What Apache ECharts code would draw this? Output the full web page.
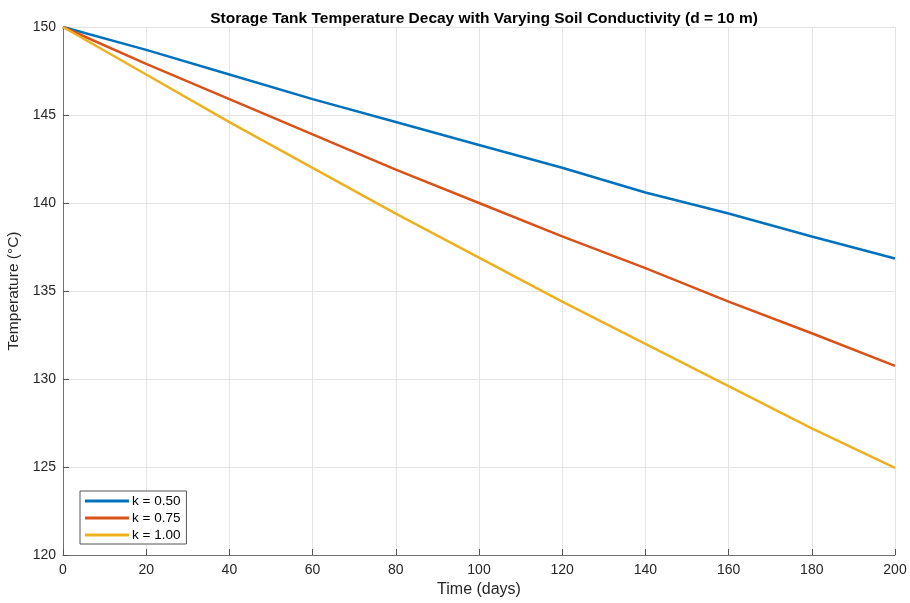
<!DOCTYPE html>
<html>
<head>
<meta charset="utf-8">
<script src="https://cdn.jsdelivr.net/npm/echarts@6/dist/echarts.min.js"></script>
<style>
  html, body { margin: 0; padding: 0; background: #fff; }
  #main { width: 910px; height: 603px; }
</style>
</head>
<body>
<div id="main"></div>
<script>
'use strict';

// time in days
const days = [0, 20, 40, 60, 80, 100, 120, 140, 160, 180, 200];
// tank temperature (°C)
const tempK050 = [150.0, 148.7, 147.3, 145.9, 144.6, 143.3, 142.0, 140.6, 139.4, 138.1, 136.85];
const tempK075 = [150.0, 147.9, 145.9, 143.9, 141.9, 140.0, 138.1, 136.3, 134.4, 132.6, 130.75];
const tempK100 = [150.0, 147.3, 144.6, 142.0, 139.4, 136.9, 134.4, 132.0, 129.6, 127.2, 124.95];
const seriesNames = ['k = 0.50', 'k = 0.75', 'k = 1.00'];
const colors = ['#0072BD', '#D95319', '#EDB120'];

const font = '"Liberation Sans", Arial, Helvetica, sans-serif';

function pairs(vals) {
    return days.map((d, i) => [d, vals[i]]);
}

window.onload = function () {
    let chart = echarts.init(document.getElementById('main'));

    let allSeries = [tempK050, tempK075, tempK100].map((vals, i) => ({
        name: seriesNames[i],
        type: 'line',
        data: pairs(vals),
        showSymbol: false,
        lineStyle: { width: 2.5, color: colors[i] },
        itemStyle: { color: colors[i] },
        z: 3 + i
    }));

    chart.setOption({
        animation: false,
        backgroundColor: '#fff',
        title: {
            text: 'Storage Tank Temperature Decay with Varying Soil Conductivity (d = 10 m)',
            left: 479,
            textAlign: 'center',
            top: 6,
            textStyle: { fontFamily: font, fontSize: 15.5, fontWeight: 'bold', color: '#000' }
        },
        legend: {
            orient: 'vertical',
            left: 80,
            top: 491,
            itemWidth: 44,
            itemHeight: 3,
            itemGap: 3,
            padding: [3, 6, 2, 5],
            borderColor: '#555',
            borderWidth: 1,
            backgroundColor: '#fff',
            icon: 'rect',
            textStyle: { fontFamily: font, fontSize: 13.5, color: '#000', padding: [0, 0, 0, -2] },
            data: seriesNames
        },
        grid: {
            left: 63, right: 15, top: 27, bottom: 48,
            outerBoundsMode: 'none',
            containLabel: false,
            show: false
        },
        xAxis: {
            type: 'value',
            min: 0, max: 200, interval: 20,
            name: 'Time (days)',
            nameLocation: 'middle',
            nameGap: 27,
            nameTextStyle: { fontFamily: font, fontSize: 16, color: '#262626' },
            axisLine: { lineStyle: { color: '#707070' } },
            axisTick: { inside: true, length: 6, lineStyle: { color: '#555' } },
            axisLabel: { fontFamily: font, fontSize: 14, color: '#262626', margin: 8 },
            splitLine: { show: true, lineStyle: { color: '#e3e3e3' } }
        },
        yAxis: {
            type: 'value',
            min: 120, max: 150, interval: 5,
            name: 'Temperature (°C)',
            nameLocation: 'middle',
            nameGap: 38,
            nameTextStyle: { fontFamily: font, fontSize: 15.5, color: '#262626' },
            axisLine: { show: true, lineStyle: { color: '#707070' } },
            axisTick: { show: true, inside: true, length: 6, lineStyle: { color: '#555' } },
            axisLabel: { fontFamily: font, fontSize: 14, color: '#262626', margin: 7 },
            splitLine: { show: true, lineStyle: { color: '#e3e3e3' } }
        },
        series: allSeries
    });
};
</script>
</body>
</html>
